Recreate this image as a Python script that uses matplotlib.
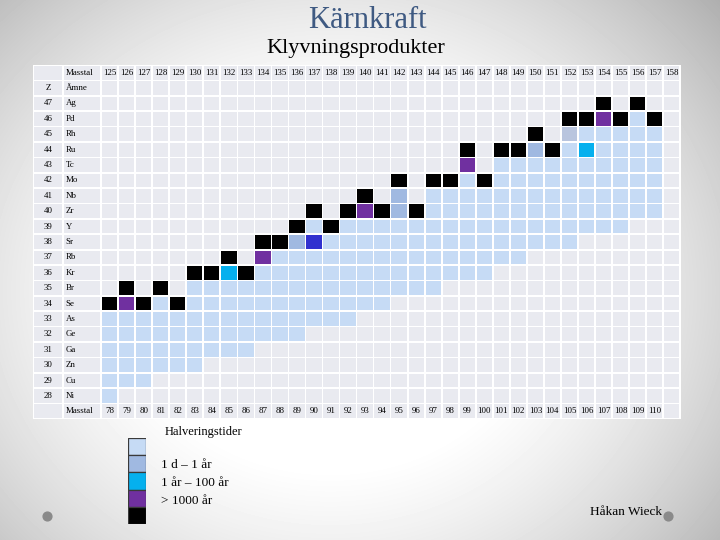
import numpy as np
import matplotlib

matplotlib.use("Agg")
import matplotlib.pyplot as plt

plt.rcParams["font.family"] = ["Liberation Serif", "DejaVu Serif"]

# ---- data --------------------------------------------------------------------
HEAVY_MASS = [125, 126, 127, 128, 129, 130, 131, 132, 133, 134, 135, 136, 137,
              138, 139, 140, 141, 142, 143, 144, 145, 146, 147, 148, 149, 150,
              151, 152, 153, 154, 155, 156, 157, 158]
LIGHT_MASS = [78, 79, 80, 81, 82, 83, 84, 85, 86, 87, 88, 89, 90, 91, 92, 93,
              94, 95, 96, 97, 98, 99, 100, 101, 102, 103, 104, 105, 106, 107,
              108, 109, 110, ""]
Z_VALUES = [47, 46, 45, 44, 43, 42, 41, 40, 39, 38, 37, 36, 35, 34, 33, 32, 31,
            30, 29, 28]
ELEMENTS = ["Ag", "Pd", "Rh", "Ru", "Tc", "Mo", "Nb", "Zr", "Y", "Sr", "Rb",
            "Kr", "Br", "Se", "As", "Ge", "Ga", "Zn", "Cu", "Ni"]

# one string per element row, one character per mass column
# . none   l short   m 1 d-1 yr   g (pale)   c 1-100 yr   b (blue)   p long   k stable
CELLS = [
    "." * 29 + "k.k" + "..",
    "." * 27 + "kkpklk.",
    "." * 25 + "k.g" + "lllll" + ".",
    "." * 21 + "k.kkmklc" + "llll" + ".",
    "." * 21 + "p." + "l" * 10 + ".",
    "." * 17 + "k.kklk" + "l" * 10 + ".",
    "." * 15 + "k.m." + "l" * 14 + ".",
    "." * 12 + "k.kpkmk" + "l" * 14 + ".",
    "." * 11 + "klk" + "l" * 17 + "...",
    "." * 9 + "kkmb" + "l" * 15 + "." * 6,
    "." * 7 + "k.p" + "l" * 15 + "." * 9,
    "." * 5 + "kkck" + "l" * 14 + "." * 11,
    ".k.k." + "l" * 15 + "." * 14,
    "kpklk" + "l" * 12 + "." * 17,
    "l" * 15 + "." * 19,
    "l" * 12 + "." * 22,
    "l" * 9 + "." * 25,
    "l" * 6 + "." * 28,
    "l" * 3 + "." * 31,
    "l" + "." * 33,
]

LEGEND_KEYS = ["l", "m", "c", "p", "k"]
LEGEND_TEXT = ["1 d – 1 år", "1 år – 100 år", "> 1000 år"]

COLORS = {
    ".": "#e9eaf0", "l": "#c6dbf5", "m": "#a0b9e1", "g": "#b9c5de",
    "c": "#05b0ee", "b": "#3131cf", "p": "#7030a0", "k": "#000000",
}
GREY = COLORS["."]

# ---- figure ------------------------------------------------------------------
fig = plt.figure(figsize=(7.2, 5.4), dpi=100)
W, H = 720, 540


def fax(x0, y0, x1, y1):
    """axes from pixel box (top-left origin)"""
    return fig.add_axes([x0 / W, 1 - y1 / H, (x1 - x0) / W, (y1 - y0) / H])


def bare(a):
    a.set_xticks([]); a.set_yticks([])
    for s in a.spines.values():
        s.set_visible(False)


# background vignette
bg = fax(0, 0, W, H)
yy, xx = np.mgrid[0:H, 0:W]
r2 = ((xx - 330) / 480) ** 2 + ((yy - 290) / 420) ** 2
bg.imshow(np.clip(1.06 - 0.33 * r2, 0, 1), extent=[0, W, H, 0], cmap="gray",
          vmin=0, vmax=1, aspect="auto", interpolation="bilinear")
bg.set_xlim(0, W); bg.set_ylim(H, 0); bg.axis("off")
bg.scatter([47, 668], [516, 516], s=40, color="#8a8a8a", zorder=3)

bg.text(367, 20, "Kärnkraft", ha="center", va="center", fontsize=22, color="#3f5a82")
bg.text(356, 48, "Klyvningsprodukter", ha="center", va="center", fontsize=16, color="black")

# table: x in cell units, label columns to the left of 0
ax = fax(33, 65, 681, 419)
bare(ax)
ax.set_facecolor("white")
ncol = len(HEAVY_MASS)
nrow = len(Z_VALUES) + 3
ax.set_xlim(-4.0, ncol + 0.05); ax.set_ylim(nrow, 0)
ZC = (-4.0, -2.24)
NC = (-2.24, 0.0)
gx, gy = 0.05, 0.055
fs = 6.4

for i in range(nrow):
    if 2 <= i < nrow - 1:
        row = CELLS[i - 2]
    else:
        row = "." * ncol
    cols = np.arange(ncol)
    ax.bar(cols + gx, 1 - 2 * gy, width=1 - 2 * gx, bottom=i + gy, align="edge",
           color=[COLORS[ch] for ch in row], linewidth=0)
    for c0, c1 in (ZC, NC):
        ax.bar(c0 + gx, 1 - 2 * gy, width=c1 - c0 - 2 * gx, bottom=i + gy,
               align="edge", color=GREY, linewidth=0)

yc = lambda i: i + 0.5
ax.text(NC[0] + 0.15, yc(0), "Masstal", ha="left", va="center", fontsize=fs)
for j, m in enumerate(HEAVY_MASS):
    ax.text(j + 0.5, yc(0), str(m), ha="center", va="center", fontsize=fs)
ax.text(sum(ZC) / 2, yc(1), "Z", ha="center", va="center", fontsize=fs)
ax.text(NC[0] + 0.15, yc(1), "Ämne", ha="left", va="center", fontsize=fs)
for k, (z, el) in enumerate(zip(Z_VALUES, ELEMENTS)):
    ax.text(sum(ZC) / 2, yc(k + 2), str(z), ha="center", va="center", fontsize=fs)
    ax.text(NC[0] + 0.15, yc(k + 2), el, ha="left", va="center", fontsize=fs)
ax.text(NC[0] + 0.15, yc(nrow - 1), "Masstal", ha="left", va="center", fontsize=fs)
for j, m in enumerate(LIGHT_MASS):
    ax.text(j + 0.5, yc(nrow - 1), str(m), ha="center", va="center", fontsize=fs)

# legend swatches
lg = fax(128, 438, 146, 524)
lg.set_xlim(0, 1); lg.set_ylim(len(LEGEND_KEYS), 0); lg.axis("off")
lg.bar([0] * len(LEGEND_KEYS), 1, bottom=np.arange(len(LEGEND_KEYS)), width=1,
       align="edge", color=[COLORS[k] for k in LEGEND_KEYS],
       edgecolor="#3a3a3a", linewidth=0.9)

bg.text(165, 432, "Halveringstider", ha="left", va="center", fontsize=9)
for t, y in zip(LEGEND_TEXT, [465, 483, 501]):
    bg.text(161, y, t, ha="left", va="center", fontsize=9.5)
bg.text(662, 512, "Håkan Wieck", ha="right", va="center", fontsize=9.5)

fig.savefig("out.png", dpi=100)
